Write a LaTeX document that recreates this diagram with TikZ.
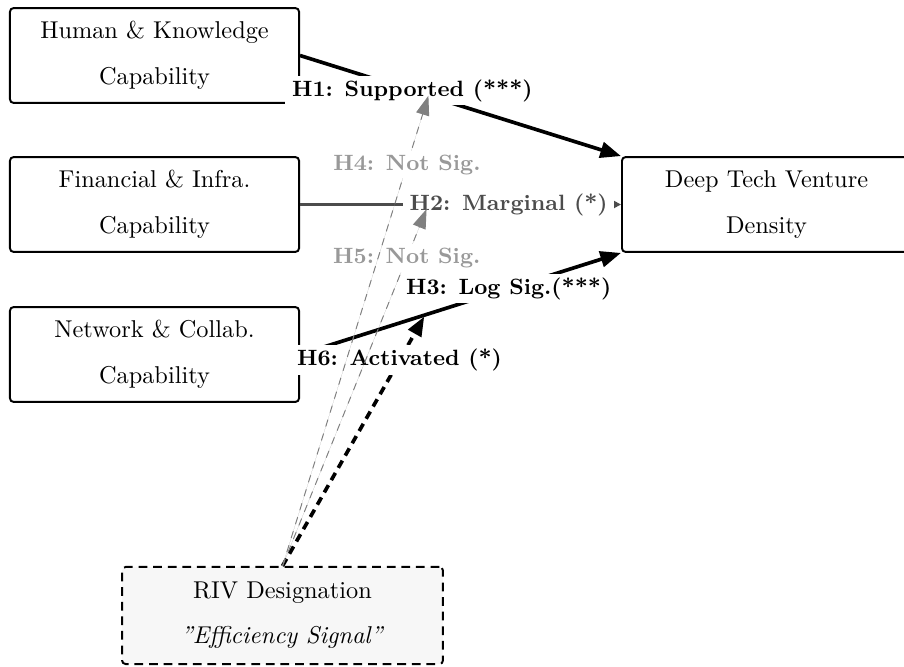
\documentclass[tikz,border=0pt]{standalone}
\usetikzlibrary{arrows.meta}
\begin{document}
\begin{tikzpicture}[x=0.411pt,y=-0.411pt,
  box/.style={draw,line width=0.8pt,rounded corners=1.5pt,align=center,
    minimum width=118.8pt,minimum height=39pt,inner sep=0pt,font=\fontsize{10}{12}\selectfont},
  rivbox/.style={box,fill=gray!6,dash pattern=on 3.6pt off 2.4pt,minimum width=131.9pt,minimum height=39.9pt},
  lab/.style={fill=white,font=\fontsize{9.1}{11}\selectfont\bfseries,inner xsep=2.8pt,inner ysep=1.5pt},
  mainarr/.style={line width=1.5pt,-{Triangle[length=8.5pt,width=6.5pt]}},
  margarr/.style={line width=0.9pt,draw=black!70,-{Triangle[length=3pt,width=3pt]}},
  modarr/.style={line width=1.5pt,dash pattern=on 3.4pt off 2.4pt,-{Triangle[length=8pt,width=6pt]}},
  weakarr/.style={line width=0.4pt,draw=gray,dashed,-{Triangle[length=8pt,width=5.5pt]},fill=gray}
]
\useasboundingbox (0,0) rectangle (904,666);

\node[box] (human) at (154.5,55.5) {Human \& Knowledge\\[7pt]Capability};
\node[box] (fin) at (154.5,204.5) {Financial \& Infra.\\[7pt]Capability};
\node[box] (net) at (154.5,354.5) {Network \& Collab.\\[7pt]Capability};
\node[box] (dt) at (766.5,204.5) {Deep Tech Venture\\[7pt]Density};
\node[rivbox] (riv) at (282.5,615.5) {RIV Designation\\[6.5pt]\textit{\textquotedblright Efficiency Signal\textquotedblright}};

\path (human.east) -- coordinate[pos=0.4] (m1) (dt.north west);
\path (fin.east) -- coordinate[pos=0.4] (m2) (dt.west);
\path (net.east) -- coordinate[pos=0.39] (m3) (dt.south west);

\draw[mainarr] (human.east) -- node[lab,pos=0.35] {H1: Supported (***)} (dt.north west);
\draw[mainarr] (net.east) -- node[lab,pos=0.65] {H3: Log Sig.(***)} (dt.south west);
\draw[modarr,shorten >=0.8pt] (riv.north) -- node[lab,pos=0.82] {H6: Activated (*)} (m3);
\draw[margarr] (fin.east) -- node[lab,text=black!70,pos=0.65] {H2: Marginal (*)} (dt.west);
\draw[weakarr,shorten >=2pt] (riv.north) -- node[lab,text=gray!80,pos=0.852] {H5: Not Sig.} (m2);
\draw[weakarr] (riv.north) -- node[lab,text=gray!80,pos=0.853] {H4: Not Sig.} (m1);
\end{tikzpicture}
\end{document}
